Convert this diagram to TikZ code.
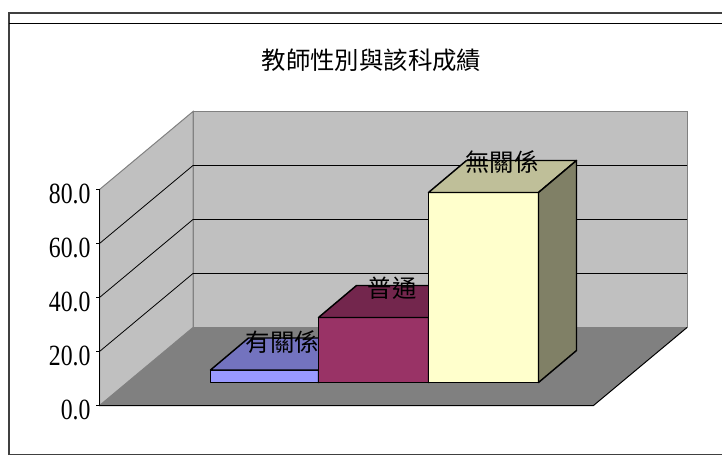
\documentclass[tikz,border=0pt]{standalone}
\usepackage{fontspec}
\newfontfamily\cjk{Noto Sans CJK TC}
\newfontfamily\axisfont[FakeStretch=0.81]{Liberation Serif}

\definecolor{wallgray}{RGB}{192,192,192}
\definecolor{floorgray}{RGB}{128,128,128}
\definecolor{framegray}{RGB}{64,64,64}
\definecolor{bluefront}{RGB}{153,153,255}
\definecolor{bluetop}{RGB}{115,115,191}
\definecolor{blueside}{RGB}{77,77,128}
\definecolor{redfront}{RGB}{153,51,102}
\definecolor{redtop}{RGB}{115,38,77}
\definecolor{redside}{RGB}{77,26,51}
\definecolor{yelfront}{RGB}{255,255,204}
\definecolor{yeltop}{RGB}{191,191,153}
\definecolor{yelside}{RGB}{128,128,102}

\tikzset{every picture/.style={line width=0.75pt},
  barface/.style={draw=black,line width=1.1pt,line join=round},
  wallface/.style={fill=wallgray,draw=floorgray,line width=0.75pt},
  gridline/.style={draw=black,line width=0.6pt},
  ticklabel/.style={anchor=east,inner sep=0pt,font=\axisfont\fontsize{22}{24}\selectfont},
  barlabel/.style={inner sep=0pt,font=\cjk\fontsize{18.3}{20}\selectfont}}

\begin{document}
\begin{tikzpicture}[x=0.75pt,y=0.75pt,yscale=-1,xscale=1]
\useasboundingbox (0,0) rectangle (722,455);

%Shape: Chart frame
\draw [draw=framegray,line width=1.5pt]  (9,455) -- (9,13) -- (724,13) ;
\draw   (9,23) -- (724,23) ;
\draw [draw=framegray]  (9,454) -- (724,454) ;

% Text Node
\draw (371.5,60) node (title) [barlabel]  {教師性別與該科成績};

%Shape: Back wall
\draw  [wallface]  (193,111.5) -- (687,111.5) -- (687,327.5) -- (193,327.5) -- cycle ;
%Shape: Left wall
\draw  [wallface]  (99.5,405.5) -- (99.5,189.5) -- (193,111.5) -- (193,327.5) -- cycle ;
%Shape: Floor
\fill  [floorgray]  (99.5,405.5) -- (593.5,405.5) -- (687,327.5) -- (193,327.5) -- cycle ;
\draw   (99.5,405.5) -- (593.5,405.5) -- (687,327.5) ;

%Straight Lines: grid on left wall and back wall
\draw [gridline]  (99.5,351.5) -- (193,273.5) -- (687,273.5) ;
\draw [gridline]  (99.5,297.5) -- (193,219.5) -- (687,219.5) ;
\draw [gridline]  (99.5,243.5) -- (193,165.5) -- (687,165.5) ;

%Shape: Value axis
\draw   (99.5,189.5) -- (99.5,405.5) ;
\draw   (96,405.5) -- (99.5,405.5) (96,351.5) -- (99.5,351.5) (96,297.5) -- (99.5,297.5) (96,243.5) -- (99.5,243.5) (96,189.5) -- (99.5,189.5) ;

% Text Node
\draw (91,409.5) node (lbl0) [ticklabel]  {0.0};
% Text Node
\draw (91,355.5) node (lbl20) [ticklabel]  {20.0};
% Text Node
\draw (91,301.5) node (lbl40) [ticklabel]  {40.0};
% Text Node
\draw (91,247.5) node (lbl60) [ticklabel]  {60.0};
% Text Node
\draw (91,193.5) node (lbl80) [ticklabel]  {80.0};

%Shape: Bar 1
\draw  [barface,fill=bluefront]  (210.5,370) -- (318.5,370) -- (318.5,382.5) -- (210.5,382.5) -- cycle ;
\draw  [barface,fill=bluetop]  (210.5,370) -- (248.5,338) -- (356.5,338) -- (318.5,370) -- cycle ;
\draw  [barface,fill=blueside]  (318.5,370) -- (356.5,338) -- (356.5,350.5) -- (318.5,382.5) -- cycle ;
% Text Node
\draw (282.5,342.5) node (cat1) [barlabel]  {有關係};

%Shape: Bar 2
\draw  [barface,fill=redfront]  (318.5,317.5) -- (428.5,317.5) -- (428.5,382.5) -- (318.5,382.5) -- cycle ;
\draw  [barface,fill=redtop]  (318.5,317.5) -- (356.5,285.5) -- (466.5,285.5) -- (428.5,317.5) -- cycle ;
\draw  [barface,fill=redside]  (428.5,317.5) -- (466.5,285.5) -- (466.5,350.5) -- (428.5,382.5) -- cycle ;
% Text Node
\draw (392,288.5) node (cat2) [barlabel]  {普通};

%Shape: Bar 3
\draw  [barface,fill=yelfront]  (428.5,192.5) -- (538.5,192.5) -- (538.5,382.5) -- (428.5,382.5) -- cycle ;
\draw  [barface,fill=yeltop]  (428.5,192.5) -- (466.5,160.5) -- (576.5,160.5) -- (538.5,192.5) -- cycle ;
\draw  [barface,fill=yelside]  (538.5,192.5) -- (576.5,160.5) -- (576.5,350.5) -- (538.5,382.5) -- cycle ;
% Text Node
\draw (502,162) node (cat3) [barlabel]  {無關係};

\end{tikzpicture}
\end{document}
